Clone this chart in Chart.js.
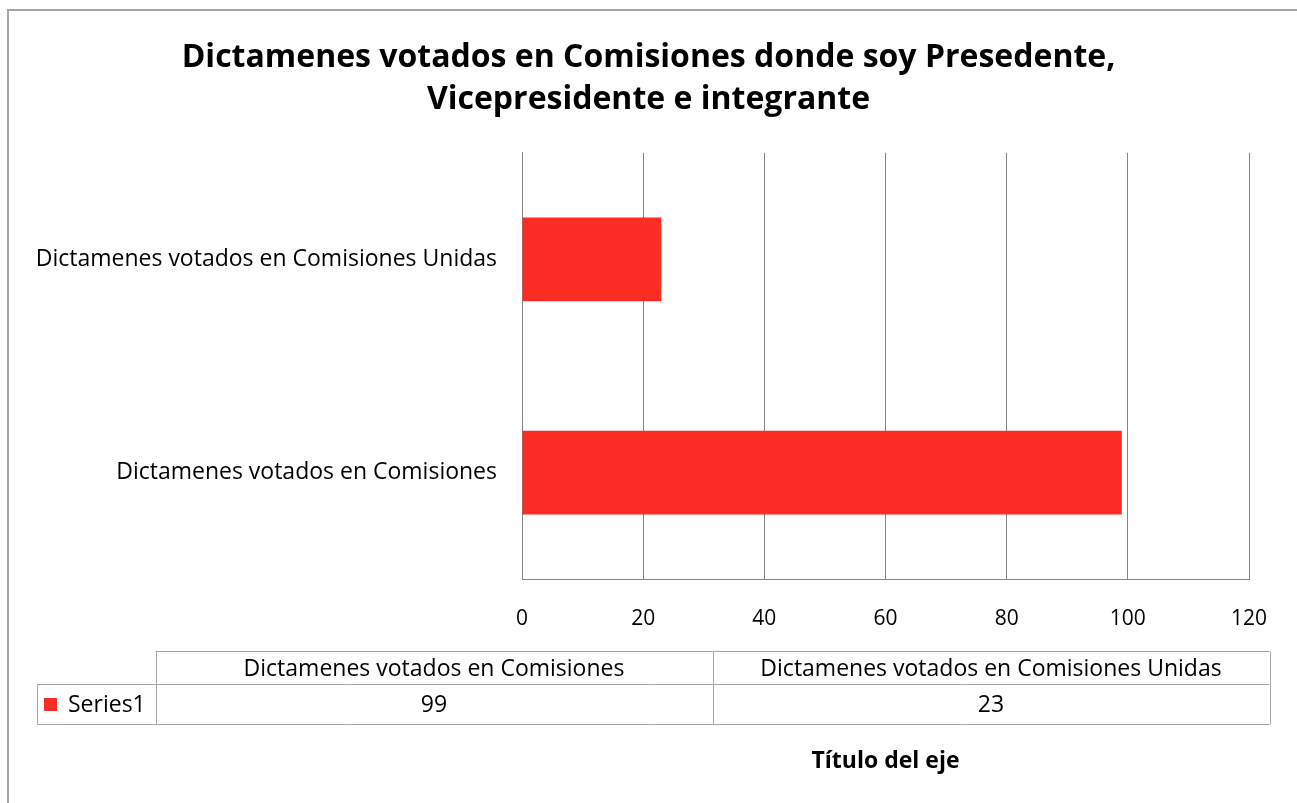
<!DOCTYPE html>
<html>
<head>
<meta charset="utf-8">
<script src="https://cdn.jsdelivr.net/npm/chart.js@4.4.0/dist/chart.umd.min.js"></script>
<style>
  html, body { margin: 0; padding: 0; overflow: hidden; background: #fff; }
  #frame { position: absolute; left: 7px; top: 9px; width: 1288px; height: 792px;
           border-left: 2px solid #a6a6a6; border-top: 2px solid #a6a6a6; }
  #chartCanvas { position: absolute; left: 0; top: 0; }
</style>
</head>
<body>
<div id="frame"></div>
<canvas id="chartCanvas" width="1297" height="803"></canvas>
<script>
// chart data
var categories = ["Dictamenes votados en Comisiones", "Dictamenes votados en Comisiones Unidas"];
var seriesName = "Series1";
var seriesValues = [99, 23];
var xTicks = [0, 20, 40, 60, 80, 100, 120];
var titleLines = ["Dictamenes votados en Comisiones donde soy Presedente,", "Vicepresidente e integrante"];
var axisTitle = "Título del eje";

var barColor = '#f92d23';
var fontName = '"Open Sans", Lato, sans-serif';

// center the title on the whole canvas, not only the padded box
var titleCenterPlugin = {
  id: 'titleCenter',
  afterLayout: function (chart) {
    if (chart.titleBlock) {
      chart.titleBlock.left = 0;
      chart.titleBlock.right = chart.width;
      chart.titleBlock.width = chart.width;
    }
  }
};

// data table drawn under the axis, like the Excel one
var dataTablePlugin = {
  id: 'dataTable',
  afterDraw: function (chart) {
    var ctx = chart.ctx;
    var keyLeft = 37.5, left = 155.5, right = chart.width - 27.5;
    var top = 651.5, mid = 684.5, bottom = 724.5;
    var colW = (right - left) / categories.length;

    ctx.save();
    ctx.strokeStyle = '#a6a6a6';
    ctx.lineWidth = 1;
    ctx.beginPath();
    // header row
    ctx.moveTo(left, top); ctx.lineTo(right, top);
    ctx.moveTo(keyLeft, mid); ctx.lineTo(right, mid);
    ctx.moveTo(keyLeft, bottom); ctx.lineTo(right, bottom);
    ctx.moveTo(keyLeft, mid); ctx.lineTo(keyLeft, bottom);
    for (var i = 0; i <= categories.length; i++) {
      var x = Math.round(left + colW * i) + 0.5;
      ctx.moveTo(x, top); ctx.lineTo(x, bottom);
    }
    ctx.stroke();

    ctx.fillStyle = '#000';
    ctx.font = '23px ' + fontName;
    ctx.textAlign = 'center';
    ctx.textBaseline = 'middle';
    for (var j = 0; j < categories.length; j++) {
      var cx = left + colW * (j + 0.5);
      ctx.fillText(categories[j], cx, (top + mid) / 2 + 1);
      ctx.fillText(String(seriesValues[j]), cx, (mid + bottom) / 2 + 1);
    }

    // legend key
    ctx.fillStyle = barColor;
    ctx.fillRect(44, 698, 13, 13);
    ctx.fillStyle = '#000';
    ctx.textAlign = 'left';
    ctx.fillText(seriesName, 68, (mid + bottom) / 2 + 1);
    ctx.restore();
  }
};

var ctx = document.getElementById('chartCanvas');
var chartObj = new Chart(ctx, {
  type: 'bar',
  data: {
    labels: categories,
    datasets: [{
      label: seriesName,
      data: seriesValues,
      backgroundColor: barColor,
      borderWidth: 0,
      barPercentage: 0.393,
      categoryPercentage: 1
    }]
  },
  plugins: [titleCenterPlugin, dataTablePlugin],
  options: {
    indexAxis: 'y',
    responsive: false,
    animation: false,
    layout: {
      padding: { left: 0, right: 48, top: 0, bottom: 28 }
    },
    plugins: {
      legend: { display: false },
      tooltip: { enabled: false },
      title: {
        display: true,
        text: titleLines,
        color: '#000',
        font: { family: fontName, size: 32, weight: 'bold', lineHeight: 1.31 },
        padding: { top: 37, bottom: 32 }
      }
    },
    scales: {
      x: {
        min: 0,
        max: 120,
        afterBuildTicks: function (scale) {
          scale.ticks = xTicks.map(function (v) { return { value: v }; });
        },
        grid: {
          display: true,
          color: '#868686',
          lineWidth: 1,
          drawTicks: false
        },
        border: { display: true, color: '#868686', width: 1 },
        ticks: {
          color: '#000',
          padding: 27,
          maxRotation: 0,
          font: { family: fontName, size: 21 }
        },
        title: {
          display: true,
          text: axisTitle,
          color: '#000',
          font: { family: fontName, size: 23, weight: 'bold' },
          padding: { top: 89, bottom: 0 }
        }
      },
      y: {
        reverse: true,
        grid: { display: false, drawTicks: false },
        border: { display: true, color: '#868686', width: 1 },
        ticks: {
          color: '#000',
          padding: 25,
          font: { family: fontName, size: 23 }
        },
        afterFit: function (scale) {
          scale.width = 522;
        }
      }
    }
  }
});
</script>
</body>
</html>
